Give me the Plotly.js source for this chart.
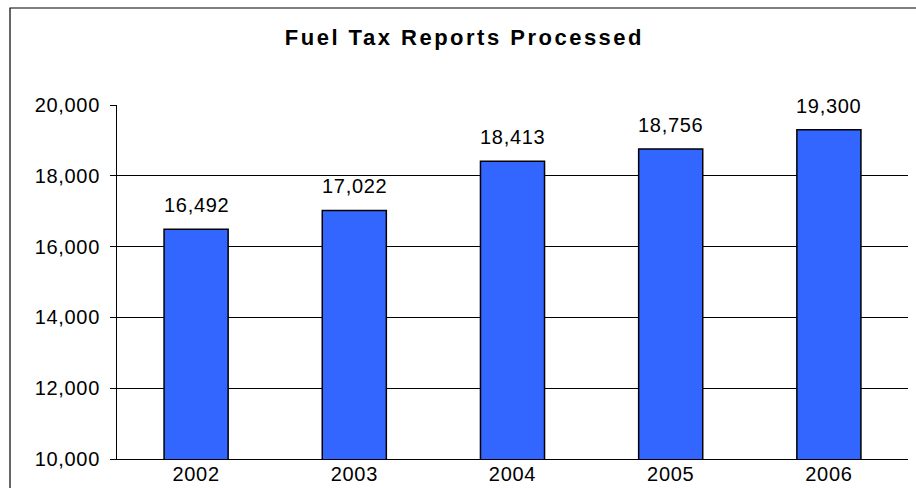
<!DOCTYPE html>
<html>
<head>
<meta charset="utf-8">
<script src="https://cdn.plot.ly/plotly-3.0.1.min.js"></script>
<style>
  html, body { margin: 0; padding: 0; background: #fff; }
  #chart { width: 916px; height: 488px; }
  .gtitle { letter-spacing: 2.5px; }
  .xtick text, .ytick text, .annotation-text { letter-spacing: 0.7px; }
</style>
</head>
<body>
<div id="chart"></div>
<script>
const years = ['2002', '2003', '2004', '2005', '2006'];
const reports = [16492, 17022, 18413, 18756, 19300];
const yTicks = [10000, 12000, 14000, 16000, 18000, 20000];
const chartTitle = 'Fuel Tax Reports Processed';

const fmt = v => v.toLocaleString('en-US');
const FONT = 'Arial, Liberation Sans, sans-serif';

const trace = {
  type: 'bar',
  x: years,
  y: reports,
  marker: { color: '#3366FF', line: { color: '#000000', width: 1.5 } },
  hoverinfo: 'none'
};

const annotations = years.map((yr, i) => ({
  x: i, y: reports[i], xref: 'x', yref: 'y',
  text: fmt(reports[i]), showarrow: false,
  yanchor: 'bottom', yshift: 11,
  font: { family: FONT, size: 20, color: '#000' }
}));

const layout = {
  width: 916, height: 488,
  margin: { l: 117, r: 8, t: 105, b: 29, pad: 0 },
  paper_bgcolor: '#ffffff',
  plot_bgcolor: '#ffffff',
  showlegend: false,
  bargap: 0.595,
  title: {
    text: '<b>' + chartTitle + '</b>',
    x: 0.507, xanchor: 'center',
    y: 1 - 37 / 488, yanchor: 'middle',
    font: { family: FONT, size: 22, color: '#000' }
  },
  xaxis: {
    type: 'category',
    categoryorder: 'array', categoryarray: years,
    range: [-0.5, years.length - 0.5], autorange: false,
    showline: true, linecolor: '#000', linewidth: 1,
    ticks: '', showgrid: false,
    ticklabelstandoff: -3,
    tickfont: { family: FONT, size: 20, color: '#000' }
  },
  yaxis: {
    range: [10000, 20000], autorange: false,
    tickvals: yTicks,
    ticktext: yTicks.map(fmt),
    showline: true, linecolor: '#000', linewidth: 1,
    ticks: 'outside', ticklen: 6, tickcolor: '#000', tickwidth: 1,
    ticklabelstandoff: 6,
    showgrid: true, gridcolor: '#000', gridwidth: 1,
    zeroline: false,
    tickfont: { family: FONT, size: 20, color: '#000' }
  },
  annotations: annotations,
  shapes: [{
    type: 'rect', xref: 'paper', yref: 'paper',
    x0: (10 - 117) / 791, x1: 1.5,
    y0: -1, y1: (459 - 8) / 354,
    line: { color: '#000', width: 1.2 },
    fillcolor: 'rgba(0,0,0,0)', layer: 'below'
  }]
};

Plotly.newPlot('chart', [trace], layout, { staticPlot: true, displayModeBar: false });
</script>
</body>
</html>
